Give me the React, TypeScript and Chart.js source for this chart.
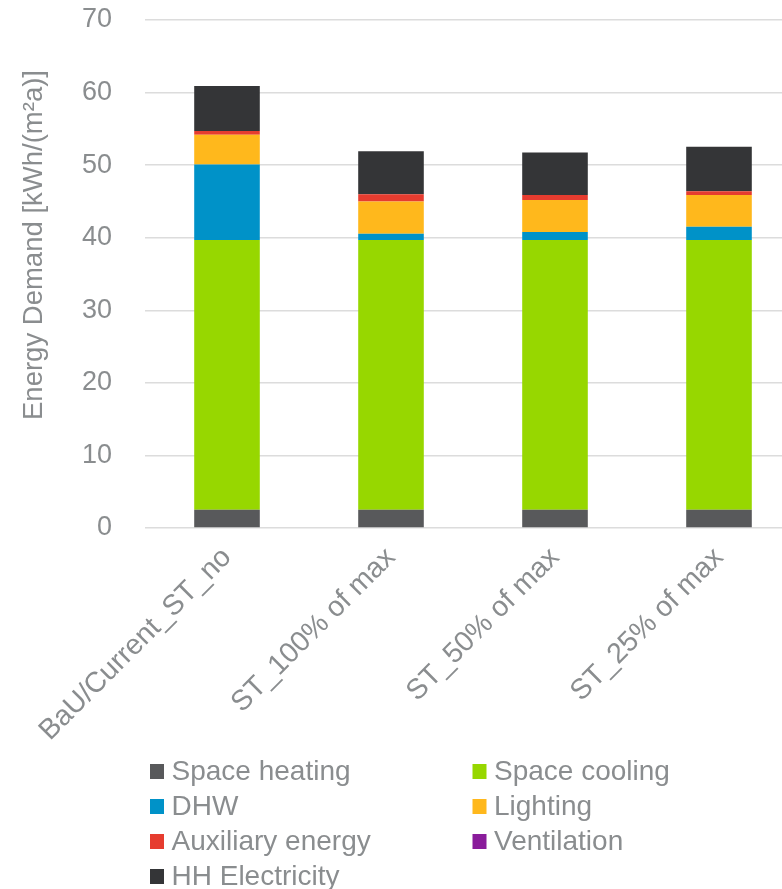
import React, { useEffect, useRef } from "react";
import { Chart, registerables } from "chart.js";

Chart.register(...registerables);

const categories = ["BaU/Current_ST_no", "ST_100% of max", "ST_50% of max", "ST_25% of max"];
const seriesNames = ["Space heating", "Space cooling", "DHW", "Lighting", "Auxiliary energy", "Ventilation", "HH Electricity"];
const spaceHeating = [2.5, 2.5, 2.5, 2.5];
const spaceCooling = [37.2, 37.2, 37.2, 37.2];
const dhw = [10.4, 0.85, 1.1, 1.8];
const lighting = [4.1, 4.45, 4.4, 4.4];
const auxiliary = [0.5, 1.0, 0.7, 0.5];
const ventilation = [0, 0, 0, 0];
const hhElectricity = [6.2, 5.9, 5.85, 6.15];
const seriesColors = ["#58595b", "#97d700", "#0092c8", "#ffb81c", "#e63c2f", "#8a1c9b", "#343537"];
const yTitle = "Energy Demand [kWh/(m²a)]";
const yMin = 0;
const yMax = 70;
const yStep = 10;

const TEXT = "#8a8d8f";
const FONT = "'Liberation Sans', Arial, sans-serif";

export default function App() {
  const ref = useRef<HTMLCanvasElement | null>(null);
  useEffect(() => {
    const canvas = ref.current;
    if (!canvas) return;
    const values = [spaceHeating, spaceCooling, dhw, lighting, auxiliary, ventilation, hhElectricity];
    const extras = {
      id: "extras",
      afterDraw(chart: any) {
        const ctx = chart.ctx;
        ctx.save();
        ctx.fillStyle = TEXT;
        ctx.font = `27.5px ${FONT}`;
        ctx.translate(42, 245);
        ctx.rotate(-Math.PI / 2);
        ctx.textAlign = "center";
        ctx.textBaseline = "alphabetic";
        ctx.fillText(yTitle, 0, 0);
        ctx.restore();
        ctx.save();
        ctx.font = `28px ${FONT}`;
        ctx.textBaseline = "alphabetic";
        ctx.textAlign = "left";
        chart.data.datasets.forEach((ds: any, i: number) => {
          const col = i % 2;
          const row = Math.floor(i / 2);
          const bx = col === 0 ? 150 : 472.5;
          const base = 780 + row * 35;
          ctx.fillStyle = ds.backgroundColor;
          ctx.fillRect(bx, base - 16, 14, 15);
          ctx.fillStyle = TEXT;
          ctx.fillText(ds.label, bx + 21.5, base);
        });
        ctx.restore();
      },
    };
    const chart = new Chart(canvas, {
      type: "bar",
      data: {
        labels: categories,
        datasets: seriesNames.map((name, i) => ({
          label: name,
          data: values[i],
          backgroundColor: seriesColors[i],
          borderWidth: 0,
          barPercentage: 0.4,
          categoryPercentage: 1.0,
        })),
      },
      options: {
        animation: false,
        responsive: false,
        devicePixelRatio: 1,
        layout: { padding: { top: 20, right: 9, left: 0, bottom: 0 } },
        plugins: { legend: { display: false }, tooltip: { enabled: false } },
        scales: {
          x: {
            stacked: true,
            grid: { display: false, drawTicks: false },
            border: { display: false },
            ticks: {
              color: TEXT,
              font: { size: 28.5, family: FONT },
              minRotation: 45,
              maxRotation: 45,
              autoSkip: false,
              padding: 13,
            },
            afterFit(scale: any) {
              scale.height = 361;
              scale.paddingLeft = 0;
              scale.paddingRight = 0;
            },
          },
          y: {
            stacked: true,
            min: yMin,
            max: yMax,
            grid: { color: "#dcdcdc", lineWidth: 1.5, drawTicks: false },
            border: { display: false },
            ticks: {
              stepSize: yStep,
              color: TEXT,
              font: { size: 27, family: FONT },
              padding: 33,
            },
            afterFit(scale: any) {
              scale.width = 145;
              scale.paddingTop = 0;
              scale.paddingBottom = 0;
            },
          },
        },
      },
      plugins: [extras],
    });
    return () => chart.destroy();
  }, []);
  return (
    <div style={{ position: "fixed", left: 0, top: 0, width: 782, height: 889, overflow: "hidden", background: "#fff" }}>
      <canvas ref={ref} width={810} height={889} style={{ width: 810, height: 889, display: "block" }} />
    </div>
  );
}
